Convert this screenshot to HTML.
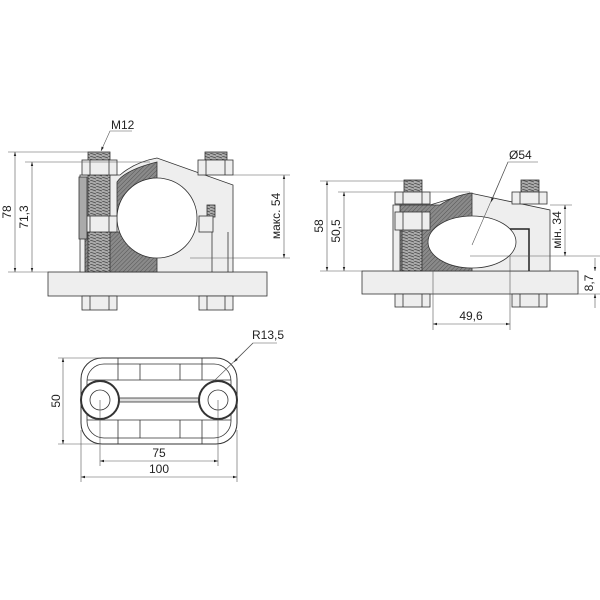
<!DOCTYPE html>
<html><head><meta charset="utf-8"><style>html,body{margin:0;padding:0;background:#fff}svg{display:block}text{font-family:"Liberation Sans",sans-serif;font-size:12px;fill:#222}</style></head><body>
<svg width="600" height="600" viewBox="0 0 600 600" xmlns="http://www.w3.org/2000/svg">
<defs>
<pattern id="h" width="3" height="3" patternUnits="userSpaceOnUse" patternTransform="rotate(45)"><rect width="3" height="3" fill="#8a8a8a"/><line x1="0" y1="0" x2="0" y2="3" stroke="#555" stroke-width="1"/></pattern>
<pattern id="th" width="6" height="3" patternUnits="userSpaceOnUse"><rect width="6" height="3" fill="#aaa"/><line x1="0" y1="0" x2="6" y2="2" stroke="#444" stroke-width="0.7"/></pattern>
<marker id="a" viewBox="0 0 10 10" refX="10" refY="5" markerWidth="7" markerHeight="7" orient="auto-start-reverse"><path d="M0,2 L10,5 L0,8z" fill="#222"/></marker>
</defs>
<g fill="none" stroke="#333" stroke-width="0.8">
<!-- LEFT VIEW -->
<rect x="48" y="272" width="219" height="24" fill="#eee"/>
<rect x="82" y="296" width="35" height="14" fill="#eee"/><rect x="199" y="296" width="34" height="14" fill="#eee"/>
<path d="M90,296 V310 M109,296 V310 M207,296 V310 M225,296 V310"/>
<path d="M80,175 H120 Q135,162 157,158 L233,185 V272 H80 Z" fill="#eee"/>
<rect x="85" y="232" width="72" height="40" fill="url(#h)"/>
<path d="M117,182 Q125,170 157,162 V178 A40,40 0 0 0 117,218 Z" fill="url(#h)"/>
<circle cx="157" cy="218" r="40" fill="#fff"/>
<rect x="88" y="152" width="22" height="120" fill="url(#th)"/>
<rect x="205" y="152" width="22" height="8" fill="url(#th)"/>
<rect x="207" y="205" width="8" height="12" fill="url(#th)"/>
<rect x="82" y="160" width="35" height="15" fill="#eee"/><rect x="198" y="160" width="35" height="15" fill="#eee"/>
<path d="M90,160 V175 M109,160 V175 M206,160 V175 M225,160 V175"/>
<rect x="82" y="216" width="35" height="16" fill="#eee"/><rect x="199" y="216" width="14" height="16" fill="#eee"/>
<path d="M90,216 V232 M109,216 V232"/>
<rect x="79" y="177" width="8" height="62" fill="#aaa"/>
<line x1="212" y1="232" x2="212" y2="272"/><line x1="228" y1="232" x2="228" y2="272"/>
<g stroke="#555" stroke-width="0.6">
<line x1="8" y1="152" x2="95" y2="152"/><line x1="25" y1="162" x2="150" y2="162"/><line x1="8" y1="272" x2="50" y2="272"/>
<line x1="233" y1="175" x2="290" y2="175"/><line x1="190" y1="258" x2="290" y2="258"/>
<line x1="15" y1="152" x2="15" y2="272" marker-start="url(#a)" marker-end="url(#a)"/>
<line x1="32" y1="162" x2="32" y2="272" marker-start="url(#a)" marker-end="url(#a)"/>
<line x1="284" y1="175" x2="284" y2="258" marker-start="url(#a)" marker-end="url(#a)"/>
<path d="M132,131 H110 L101,151" marker-end="url(#a)"/>
</g>
<!-- RIGHT VIEW -->
<rect x="362" y="271" width="216" height="23" fill="#eee"/>
<rect x="395" y="294" width="35" height="13" fill="#eee"/><rect x="512" y="294" width="35" height="13" fill="#eee"/>
<path d="M403,294 V307 M422,294 V307 M520,294 V307 M539,294 V307"/>
<path d="M393,205 H430 L470,193 L550,210 V271 H393 Z" fill="#eee"/>
<path d="M400,205 H440 Q455,195 472,193 V271 H400 Z" fill="url(#h)"/>
<ellipse cx="472" cy="242" rx="44" ry="26" fill="#fff"/>
<rect x="402" y="230" width="20" height="41" fill="url(#th)"/>
<rect x="404" y="180" width="18" height="12" fill="url(#th)"/><rect x="521" y="180" width="18" height="12" fill="url(#th)"/>
<rect x="395" y="192" width="35" height="12" fill="#eee"/><rect x="512" y="192" width="35" height="12" fill="#eee"/>
<path d="M403,192 V204 M422,192 V204 M520,192 V204 M539,192 V204"/>
<rect x="395" y="212" width="35" height="18" fill="#eee"/>
<path d="M403,212 V230 M422,212 V230"/>
<path d="M510,229 H529 V271" stroke="#222" stroke-width="1.5"/>
<g stroke="#555" stroke-width="0.6">
<line x1="320" y1="181" x2="410" y2="181"/><line x1="338" y1="192" x2="470" y2="192"/><line x1="320" y1="271" x2="362" y2="271"/>
<line x1="550" y1="205" x2="572" y2="205"/><line x1="470" y1="256" x2="600" y2="256"/><line x1="578" y1="294" x2="600" y2="294"/>
<line x1="327" y1="181" x2="327" y2="271" marker-start="url(#a)" marker-end="url(#a)"/>
<line x1="344" y1="192" x2="344" y2="271" marker-start="url(#a)" marker-end="url(#a)"/>
<line x1="565" y1="205" x2="565" y2="256" marker-start="url(#a)" marker-end="url(#a)"/>
<line x1="595" y1="258" x2="595" y2="271" marker-end="url(#a)"/><line x1="595" y1="308" x2="595" y2="294" marker-end="url(#a)"/>
<line x1="433" y1="271" x2="433" y2="330"/><line x1="510" y1="256" x2="510" y2="330"/>
<line x1="433" y1="324" x2="510" y2="324" marker-start="url(#a)" marker-end="url(#a)"/>
<path d="M538,162 H508 L472,245"/><line x1="508" y1="162" x2="491" y2="202" marker-end="url(#a)"/>
</g>
<!-- TOP VIEW -->
<rect x="81" y="358" width="156" height="86" rx="21" fill="#fff" stroke-width="1"/>
<rect x="87" y="364" width="144" height="74" rx="17"/>
<line x1="87" y1="380" x2="231" y2="380"/><line x1="87" y1="420" x2="231" y2="420"/>
<line x1="118" y1="358" x2="118" y2="380"/><line x1="140" y1="364" x2="140" y2="380"/><line x1="180" y1="364" x2="180" y2="380"/><line x1="202" y1="358" x2="202" y2="380"/>
<line x1="118" y1="420" x2="118" y2="444"/><line x1="140" y1="420" x2="140" y2="438"/><line x1="180" y1="420" x2="180" y2="438"/><line x1="202" y1="420" x2="202" y2="444"/>
<rect x="118" y="398" width="82" height="4" fill="#ddd"/>
<circle cx="100" cy="400" r="19" fill="#fff" stroke-width="2"/><circle cx="100" cy="400" r="10"/>
<circle cx="218" cy="400" r="19" fill="#fff" stroke-width="2"/><circle cx="218" cy="400" r="10"/>
<g stroke="#555" stroke-width="0.6">
<line x1="58" y1="358" x2="100" y2="358"/><line x1="58" y1="444" x2="100" y2="444"/>
<line x1="63" y1="358" x2="63" y2="444" marker-start="url(#a)" marker-end="url(#a)"/>
<line x1="100" y1="400" x2="100" y2="466"/><line x1="218" y1="400" x2="218" y2="466"/>
<line x1="81" y1="430" x2="81" y2="482"/><line x1="237" y1="430" x2="237" y2="482"/>
<line x1="100" y1="461" x2="218" y2="461" marker-start="url(#a)" marker-end="url(#a)"/>
<line x1="81" y1="477" x2="237" y2="477" marker-start="url(#a)" marker-end="url(#a)"/>
<path d="M277,343 H253 L215,380"/><line x1="253" y1="343" x2="234" y2="362" marker-end="url(#a)"/>
</g>
</g>
<text x="111" y="129">M12</text>
<text transform="translate(11,212) rotate(-90)" text-anchor="middle">78</text>
<text transform="translate(28,217) rotate(-90)" text-anchor="middle">71,3</text>
<text transform="translate(280,216) rotate(-90)" text-anchor="middle">макс. 54</text>
<text transform="translate(323,226) rotate(-90)" text-anchor="middle">58</text>
<text transform="translate(340,231) rotate(-90)" text-anchor="middle">50,5</text>
<text transform="translate(561,230) rotate(-90)" text-anchor="middle">мін. 34</text>
<text transform="translate(593,283) rotate(-90)" text-anchor="middle">8,7</text>
<text x="471" y="320" text-anchor="middle">49,6</text>
<text x="509" y="159">Ø54</text>
<text x="252" y="339">R13,5</text>
<text transform="translate(60,401) rotate(-90)" text-anchor="middle">50</text>
<text x="159" y="457" text-anchor="middle">75</text>
<text x="159" y="473" text-anchor="middle">100</text>
</svg>
</body></html>
